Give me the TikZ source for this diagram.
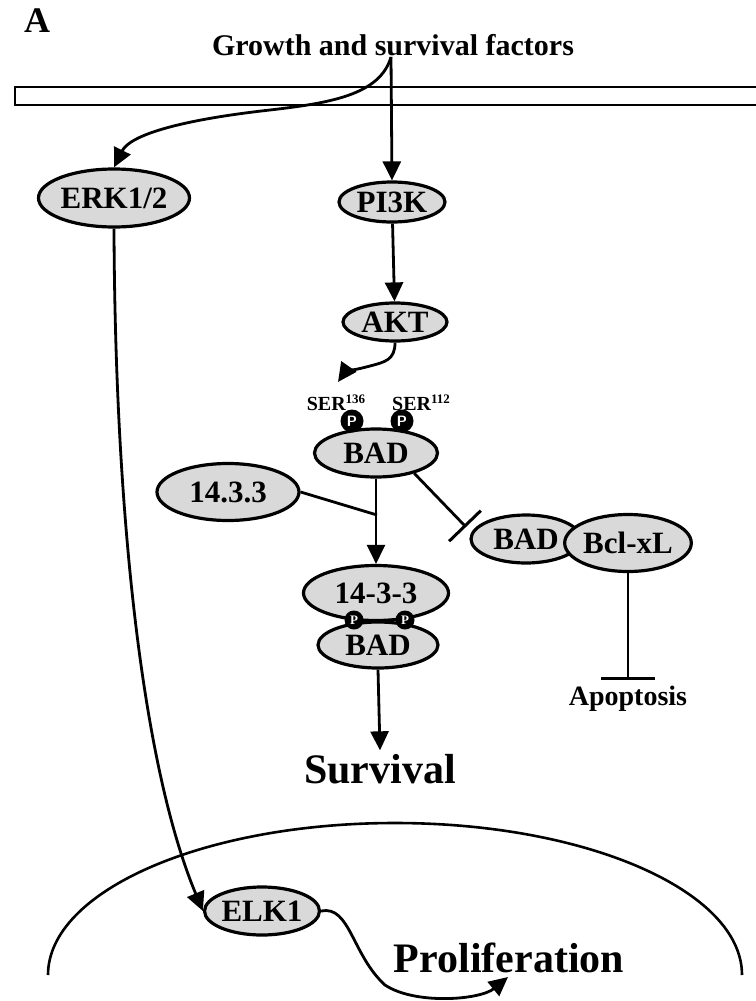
\documentclass[tikz,border=0pt]{standalone}
\usepackage{fontspec}
\setmainfont{Liberation Serif}
\usetikzlibrary{shapes.geometric,arrows.meta}
\newcommand\fsz[1]{\fontsize{#1}{#1}\selectfont\bfseries}
\newcommand\sersite[1]{SER\raisebox{7pt}{\fontsize{13}{13}\selectfont #1}}
\definecolor{protfill}{RGB}{217,217,217}
\tikzset{
  prot/.style={ellipse,draw,line width=3.2pt,fill=protfill,inner sep=0pt,font=\fsz{31}},
  pdot/.style={circle,fill=black,inner sep=0pt,minimum size=23pt,text=white,font=\sffamily\fsz{15}},
  link/.style={line width=2.8pt},
  act/.style={link,-{Triangle[length=19pt,width=18pt]}},
  inh/.style={link,-{Bar[width=#1,line width=3pt]}},
}
\begin{document}
\begin{tikzpicture}[x=1pt,y=-1pt]
  \useasboundingbox (0,0) rectangle (755,1001);
  \node[font=\fsz{36},anchor=base] (lblA) at (37,32) {A};
  \node[font=\fsz{30},anchor=base] (gsf) at (393,55) {Growth and survival factors};
  \coordinate (src) at (391,57);
  % membrane
  \draw[line width=2.6pt] (15,87) rectangle (770,105);
  % nucleus
  \draw[line width=2.6pt] (48,975) arc[start angle=180,end angle=360,x radius=347,y radius=152];

  \node[prot,minimum width=127pt,minimum height=58pt] (erk) at (114,198) {ERK1/2};
  \node[prot,minimum width=106pt,minimum height=40pt] (pi3k) at (392,202) {PI3K};
  \node[prot,minimum width=104pt,minimum height=38pt] (akt) at (395,322) {AKT};
  \node[font=\fsz{20},anchor=base] (ser136) at (336,410) {\sersite{136}};
  \node[font=\fsz{20},anchor=base] (ser112) at (421,410) {\sersite{112}};
  \node[prot,minimum width=123pt,minimum height=48pt] (bad) at (376,453) {BAD};
  \node[pdot] (pA) at (352,421) {P};
  \node[pdot] (pB) at (402,421) {P};
  \node[prot,minimum width=142pt,minimum height=57pt] (ywha) at (228,492) {14.3.3};
  \node[prot,minimum width=145pt,minimum height=55pt] (cmpx) at (376,593) {14-3-3};
  \node[prot,minimum width=120pt,minimum height=46pt] (badB) at (378,645) {BAD};
  \node[pdot,minimum size=19pt,font=\fsz{13}] (pC) at (354,620) {P};
  \node[pdot,minimum size=19pt,font=\fsz{13}] (pD) at (405,620) {P};
  \node[prot,minimum width=110pt,minimum height=48pt] (badC) at (526,539) {BAD};
  \node[prot,minimum width=115pt,minimum height=57pt] (bclxl) at (628,543) {Bcl-xL};
  \node[font=\fsz{28},anchor=base] (apop) at (628,705) {Apoptosis};
  \node[font=\fsz{42},anchor=base] (surv) at (380,783) {Survival};
  \node[prot,minimum width=115pt,minimum height=48pt] (elk) at (262,911) {ELK1};
  \node[font=\fsz{42},anchor=base] (prol) at (509,972) {Proliferation};

  \coordinate (aktend) at (338,382);
  \coordinate (join) at (377,515);
  \coordinate (inhend) at (466,527);
  \coordinate (apbar) at (628,680);
  \coordinate (prolend) at (508,977);

  \draw[act] (src) -- (pi3k.north);
  \draw[act] (src) .. controls (380,95) and (330,103) .. (270,110)
    .. controls (180,120) and (130,135) .. (erk.north);
  \draw[act] (pi3k) -- (akt);
  \draw[act] (akt.south) .. controls (395,360) and (385,362) .. (370,366)
    .. controls (355,370) and (345,372) .. (aktend);
  \draw[link] (ywha.east) -- (join);
  \draw[act] (bad.south) -- (cmpx.north);
  \draw[inh=44pt] (bad.-28) -- (inhend);
  \draw[inh=54pt] (bclxl.south) -- (apbar);
  \draw[act] (badB.south) -- (surv.north);
  \draw[act] (erk.south) .. controls (115,500) and (140,760) .. (elk.west);
  \draw[act] (elk.east) .. controls (350,905) and (352,955) .. (385,985)
    .. controls (415,1005) and (480,1000) .. (prolend);
\end{tikzpicture}
\end{document}
